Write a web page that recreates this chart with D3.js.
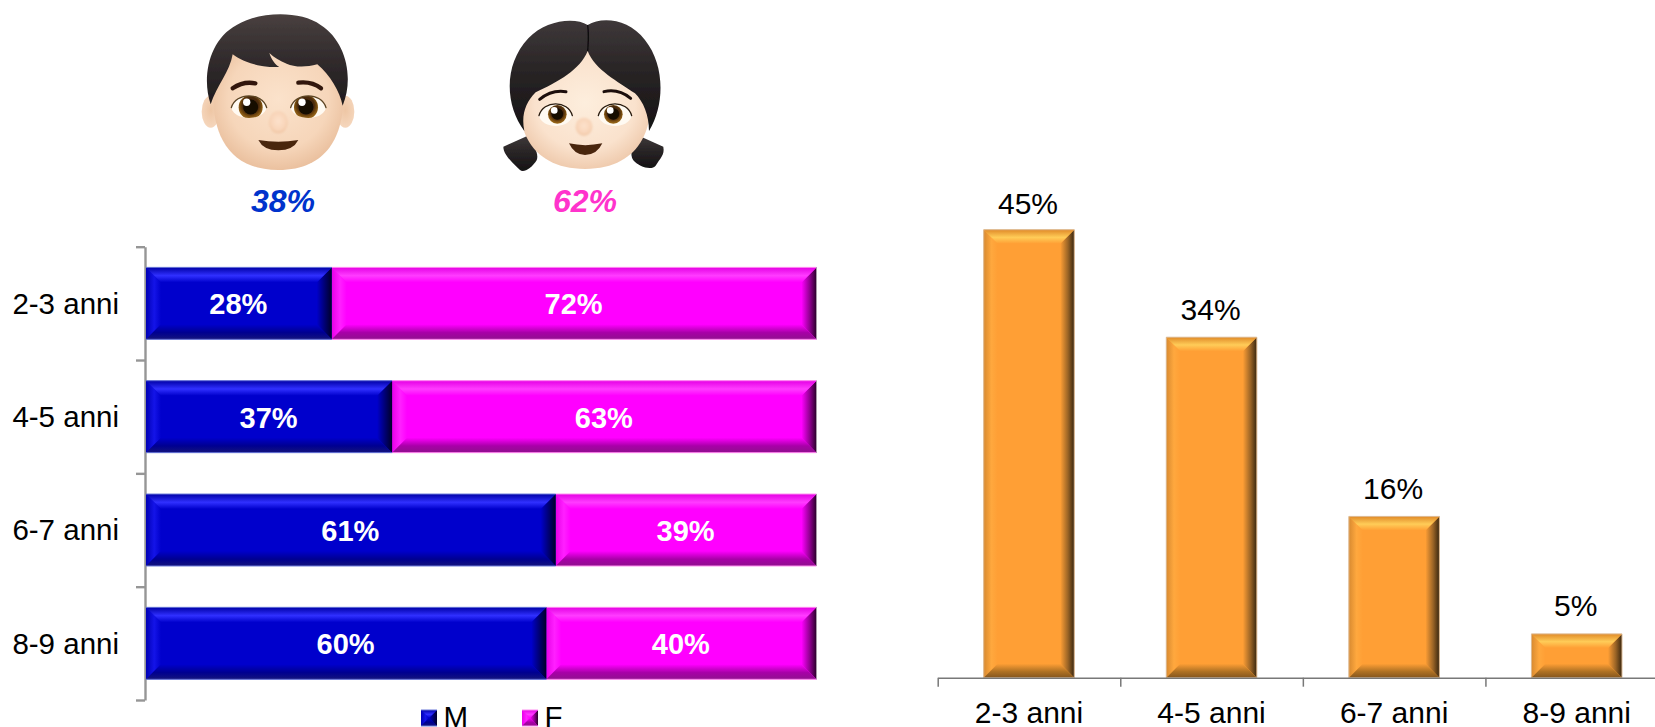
<!DOCTYPE html>
<html><head><meta charset="utf-8">
<script src="https://cdn.jsdelivr.net/npm/d3@7"></script>
<style>
html,body{margin:0;padding:0;background:#fff;overflow:hidden}
svg{display:block}
text{font-family:"Liberation Sans",Arial,sans-serif}
</style></head><body>
<svg id="c" width="1655" height="727"></svg>
<script>
const categories = ["2-3 anni","4-5 anni","6-7 anni","8-9 anni"];
const malePct = [27.7,36.7,61.1,59.7];
const maleLabels = ["28%","37%","61%","60%"];
const femaleLabels = ["72%","63%","39%","40%"];
const ageShare = [45,34.2,16.2,4.4];
const ageShareLabels = ["45%","34%","16%","5%"];
const overallLabels = ["38%","62%"];
const legendLabels = ["M","F"];

const palettes = {
  blue:{fill:"#0000cc",top:["#0000a6","#3030ff","#0000cc"],bottom:["#0000cc","#000090","#14147c"],right:["#0000cc","#000070","#000028"],left:["#0000b4","#1414e8","#0000cc"],edge:"#6a78d8"},
  pink:{fill:"#ff00ff",top:["#e400e4","#ff3cff","#ff00ff"],bottom:["#ff00ff","#a800a8","#90108e"],right:["#ff00ff","#900090","#280028"],left:["#e800e8","#ff20ff","#ff00ff"],edge:"#ff8cf0"},
  orange:{fill:"#ff9f35",top:["#e08a28","#ffcc58","#ff9f35"],bottom:["#ff9f35","#b07224","#85561e"],right:["#ff9f35","#9a6426","#38260f"],left:["#d88a30","#ffa83e","#ff9f35"],edge:"#dcbb96"}
};

const svg = d3.select("#c");
const defs = svg.append("defs");
const dirs = {top:[0,0,0,1],bottom:[0,0,0,1],left:[0,0,1,0],right:[0,0,1,0]};
Object.entries(palettes).forEach(([name,p])=>{
  Object.keys(dirs).forEach(side=>{
    const d=dirs[side];
    const g=defs.append("linearGradient").attr("id",`${name}-${side}`)
      .attr("x1",d[0]).attr("y1",d[1]).attr("x2",d[2]).attr("y2",d[3]);
    p[side].forEach((c,i)=>g.append("stop").attr("offset",[0,.55,1][i]).attr("stop-color",c));
  });
});

function bevel(g,x,y,w,h,name,b,sides){
  const p=palettes[name];
  g.append("rect").attr("x",x).attr("y",y).attr("width",w).attr("height",h).attr("fill",p.fill);
  const poly=(pts,side)=>g.append("polygon").attr("points",pts.map(q=>q.join(",")).join(" ")).attr("fill",`url(#${name}-${side})`);
  const X=x+w,Y=y+h;
  poly([[x,y],[x+b,y+b],[x+b,Y-b],[x,Y]],"left");
  poly([[X,y],[X-b,y+b],[X-b,Y-b],[X,Y]],"right");
  poly([[x,y],[X,y],[X-b,y+b],[x+b,y+b]],"top");
  poly([[x,Y],[X,Y],[X-b,Y-b],[x+b,Y-b]],"bottom");
  const edge=(x1,y1,x2,y2,c)=>g.append("line").attr("x1",x1).attr("y1",y1).attr("x2",x2).attr("y2",y2)
    .attr("stroke",c||p.edge).attr("stroke-width",1);
  edge(x,y,X,y); edge(x,Y,X,Y);
  if(sides==="all"){edge(x,y,x,Y);edge(X,y,X,Y);}
  if(sides==="right"){edge(X,y,X,Y,"#a89aa8");}
}

/* ---------- left chart ---------- */
const xL = d3.scaleLinear().domain([0,100]).range([146,816.5]);
const yL = d3.scaleBand().domain(categories).range([246.7,700]).paddingInner(0.365).paddingOuter(0.1825);
const yTicks = d3.scaleLinear().domain([0,categories.length]).range([246.7,700]);

const leftAxis = svg.append("g").attr("transform","translate(145,0)")
  .call(d3.axisLeft(yTicks).tickValues(d3.range(categories.length+1)).tickFormat("").tickSize(9).tickSizeOuter(0));
leftAxis.selectAll("path,line").attr("stroke","#969696").attr("stroke-width",2.4);

const labelAxis = svg.append("g").attr("transform","translate(119,1)")
  .call(d3.axisLeft(yL).tickSize(0).tickPadding(0));
labelAxis.select(".domain").remove();
labelAxis.selectAll("text").attr("font-size",29.5).attr("fill","#000").style("font-family",'"Liberation Sans"');

const barsL = svg.append("g");
categories.forEach((c,i)=>{
  const y=yL(c),h=yL.bandwidth();
  const g=barsL.append("g");
  bevel(g,xL(malePct[i]),y,xL(100)-xL(malePct[i]),h,"pink",15,"right");
  bevel(g,xL(0),y,xL(malePct[i])-xL(0),h,"blue",15);
  [[0,malePct[i],maleLabels[i]],[malePct[i],100,femaleLabels[i]]].forEach(([a,b,t])=>{
    g.append("text").attr("x",(xL(a)+xL(b))/2-0.5).attr("y",y+h/2+11).attr("text-anchor","middle")
      .attr("font-size",29).attr("font-weight","bold").attr("fill","#fff").text(t);
  });
});

/* legend */
const legendX=[421,522], legendNames=["blue","pink"];
legendLabels.forEach((t,i)=>{
  const g=svg.append("g");
  bevel(g,legendX[i],710,16,16,legendNames[i],8);
  g.append("text").attr("x",legendX[i]+22.5).attr("y",727).attr("font-size",29.5).attr("fill","#000").text(t);
});

/* ---------- right chart ---------- */
const xR = d3.scaleBand().domain(categories).range([937.7,1668]).paddingInner(0.504).paddingOuter(0.252);
const yR = d3.scaleLinear().domain([0,45]).range([677.7,229.7]);
const xTickPos = d3.scaleLinear().domain([0,categories.length]).range([937.7,1668]);

const barsR = svg.append("g");
const bottomAxis = svg.append("g").attr("transform","translate(0,677.7)")
  .call(d3.axisBottom(xTickPos).tickValues(d3.range(categories.length+1)).tickFormat("").tickSize(9).tickSizeOuter(0));
bottomAxis.selectAll("path,line").attr("stroke","#787878").attr("stroke-width",1.5);

categories.forEach((c,i)=>{
  const x=xR(c),w=xR.bandwidth(),y=yR(ageShare[i]);
  const g=barsR.append("g");
  bevel(g,x,y,w,yR(0)-y,"orange",14,"all");
  svg.append("text").attr("x",x+w/2-1).attr("y",y-(i===0?15.5:17.5)).attr("text-anchor","middle")
    .attr("font-size",30).attr("fill","#000").text(ageShareLabels[i]);
  svg.append("text").attr("x",x+w/2).attr("y",722.7).attr("text-anchor","middle")
    .attr("font-size",30).attr("fill","#000").text(c);
});

/* ---------- overall shares ---------- */
[[283,"#0033cc"],[585,"#ff33cc"]].forEach(([x,col],i)=>{
  svg.append("text").attr("x",x).attr("y",212).attr("text-anchor","middle")
    .attr("font-size",32).attr("font-weight","bold").attr("font-style","italic")
    .attr("fill",col).text(overallLabels[i]);
});

/* ---------- faces ---------- */
const radial=(id,stops,cx=.5,cy=.45,r=.62)=>{
  const g=defs.append("radialGradient").attr("id",id).attr("cx",cx).attr("cy",cy).attr("r",r);
  stops.forEach(([o,c])=>g.append("stop").attr("offset",o).attr("stop-color",c));
};
radial("skinB",[[0,"#fbe2cb"],[.62,"#f6d6ba"],[1,"#e6b894"]]);
radial("skinG",[[0,"#fdeedd"],[.62,"#fae2cd"],[1,"#ebc2a2"]]);
radial("ear",[[0,"#eec6a4"],[1,"#f6d8bf"]]);
radial("iris",[[0,"#3a1f08"],[.55,"#4a2a0a"],[.8,"#8a5a14"],[1,"#a0701c"]],.5,.42,.62);
radial("nose",[[0,"#fde2cc"],[.7,"#f8d4b8"],[1,"#eab992"]],.5,.45,.6);
const hair=defs.append("linearGradient").attr("id","hair").attr("x1",0).attr("y1",0).attr("x2",0).attr("y2",1);
[[0,"#49403f"],[.45,"#332d2e"],[1,"#1f1b1d"]].forEach(([o,c])=>hair.append("stop").attr("offset",o).attr("stop-color",c));
const hairG=defs.append("linearGradient").attr("id","hairG").attr("x1",0).attr("y1",0).attr("x2",0).attr("y2",1);
[[0,"#3e3839"],[.5,"#272324"],[1,"#151315"]].forEach(([o,c])=>hairG.append("stop").attr("offset",o).attr("stop-color",c));
defs.append("filter").attr("id","soft").attr("x","-30%").attr("y","-30%").attr("width","160%").attr("height","160%").append("feGaussianBlur").attr("stdDeviation",3);
defs.append("filter").attr("id","face").attr("x","-5%").attr("y","-5%").attr("width","110%").attr("height","110%").append("feGaussianBlur").attr("stdDeviation",1.5);

function eye(g,id,cx,cy,rx,ry,ix,iy,r,hr,lash){
  const d=`M${cx-rx} ${cy+4}C${cx-rx*.75} ${cy-ry*1.2} ${cx+rx*.75} ${cy-ry*1.2} ${cx+rx} ${cy+4}C${cx+rx*.8} ${cy+ry*1.25} ${cx-rx*.8} ${cy+ry*1.25} ${cx-rx} ${cy+4}Z`;
  defs.append("clipPath").attr("id",id).append("path").attr("d",d);
  g.append("path").attr("fill","#fffaf2").attr("d",d);
  const c=g.append("g").attr("clip-path",`url(#${id})`);
  c.append("circle").attr("cx",ix).attr("cy",iy).attr("r",r).attr("fill","url(#iris)");
  c.append("circle").attr("cx",ix).attr("cy",iy-1).attr("r",r*.62).attr("fill","#140a04");
  c.append("circle").attr("cx",ix-r*.33).attr("cy",iy-r*.42).attr("r",hr).attr("fill","#fff");
  g.append("path").attr("fill","none").attr("stroke",lash).attr("stroke-width",4).attr("stroke-linecap","round")
    .attr("d",`M${cx-rx} ${cy+4}C${cx-rx*.75} ${cy-ry*1.2} ${cx+rx*.75} ${cy-ry*1.2} ${cx+rx} ${cy+4}`);
}

/* boy */
const boy=svg.append("g").attr("transform","translate(190,15) scale(0.3333)").attr("filter","url(#face)");
boy.append("ellipse").attr("cx",62).attr("cy",290).attr("rx",27).attr("ry",48).attr("fill","url(#ear)");
boy.append("ellipse").attr("cx",466).attr("cy",290).attr("rx",27).attr("ry",48).attr("fill","url(#ear)");
boy.append("path").attr("fill","url(#skinB)")
  .attr("d","M75 170C55 310 85 465 265 465C445 465 475 310 455 170C420 50 110 50 75 170Z");
boy.append("path").attr("fill","url(#hair)")
  .attr("d","M62 268C35 190 55 75 140 30C205 -10 330 -15 392 30C470 80 492 190 458 272C450 230 420 180 382 148C345 158 312 156 290 146C270 138 252 128 238 114C245 135 255 148 268 156C210 158 160 142 128 118C120 170 80 212 62 268Z");
boy.append("path").attr("fill","none").attr("stroke","#33190a").attr("stroke-width",13).attr("stroke-linecap","round").attr("d","M128 220Q160 198 196 205");
boy.append("path").attr("fill","none").attr("stroke","#33190a").attr("stroke-width",13).attr("stroke-linecap","round").attr("d","M325 203Q365 198 393 220");
eye(boy,"eb1",177,274,53,36,182,277,36,11,"#5c4424");
eye(boy,"eb2",355,274,53,36,348,277,36,11,"#5c4424");
boy.append("ellipse").attr("cx",265).attr("cy",322).attr("rx",28).attr("ry",33).attr("fill","url(#nose)").attr("filter","url(#soft)");
boy.append("path").attr("fill","#4a2510").attr("d","M205 375Q265 385 325 375Q310 406 265 406Q220 406 205 375Z");

/* girl */
const girl=svg.append("g").attr("transform","translate(495,15) scale(0.3333)").attr("filter","url(#face)");
girl.append("path").attr("fill","url(#hairG)").attr("d","M25 395L95 364C120 390 132 420 125 436C110 460 85 475 75 465C55 445 25 420 25 395Z");
girl.append("path").attr("fill","url(#hairG)").attr("d","M505 395L435 364C410 385 403 420 415 436C430 455 470 468 482 452C495 430 510 420 505 395Z");
girl.append("path").attr("fill","url(#skinG)")
  .attr("d","M85 190C50 320 95 462 270 462C445 462 490 320 455 190C420 70 120 70 85 190Z");
girl.append("path").attr("fill","url(#hairG)")
  .attr("d","M88 348C30 270 25 150 100 70C150 15 240 5 278 30C320 5 400 10 450 75C510 150 510 270 462 348C462 300 445 260 420 235C370 200 300 165 278 108C255 165 190 200 122 232C92 262 78 300 88 348Z");
girl.append("path").attr("fill","none").attr("stroke","#0e0c0e").attr("stroke-width",4).attr("d","M278 30C282 60 280 85 278 108");
girl.append("path").attr("fill","none").attr("stroke","#1c0f08").attr("stroke-width",9).attr("stroke-linecap","round").attr("d","M134 253Q170 223 213 230");
girl.append("path").attr("fill","none").attr("stroke","#1c0f08").attr("stroke-width",9).attr("stroke-linecap","round").attr("d","M327 230Q370 220 407 250");
eye(girl,"eg1",182,298,50,36,187,298,28,10,"#2a1c10");
eye(girl,"eg2",360,298,50,36,355,298,28,10,"#2a1c10");
girl.append("ellipse").attr("cx",267).attr("cy",335).attr("rx",25).attr("ry",27).attr("fill","url(#nose)").attr("filter","url(#soft)");
girl.append("path").attr("fill","#4a2510").attr("d","M222 385Q270 396 322 385Q306 420 270 420Q238 420 222 385Z");
</script>
</body></html>
